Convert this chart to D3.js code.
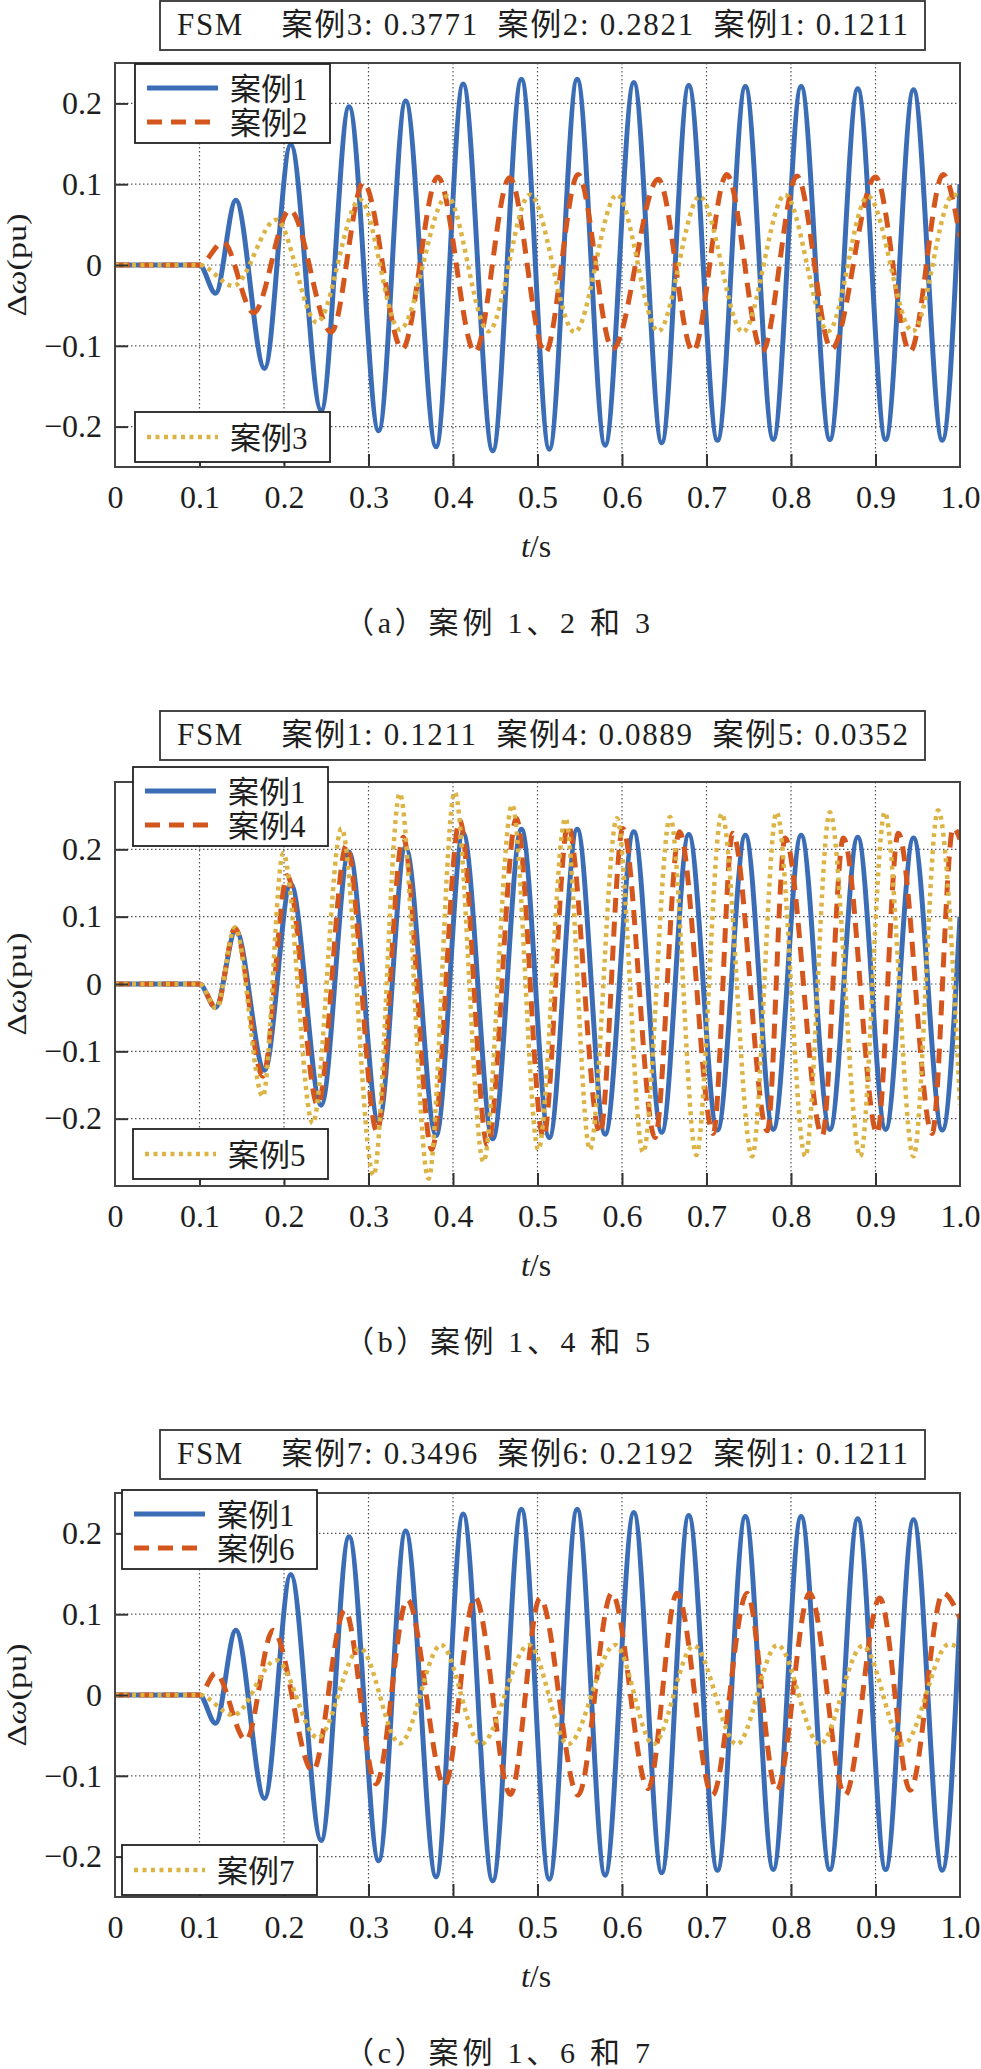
<!DOCTYPE html>
<html>
<head>
<meta charset="utf-8">
<script src="https://cdn.jsdelivr.net/npm/d3@7"></script>
<style>
body{margin:0;background:#fff;}
text{font-family:"Liberation Serif","Noto Sans CJK SC",serif;fill:#1e1e1e;}
</style>
</head>
<body>
<div id="chart"></div>
<script>
//各案例曲线的极值点 [t(s), Δω(pu)]
var case1 = [[0,0],[0.1,0],[0.119,-0.035],[0.143,0.08],[0.177,-0.128],[0.208,0.149],[0.244,-0.18],[0.277,0.196],
    [0.312,-0.205],[0.344,0.203],[0.38,-0.225],[0.412,0.224],[0.447,-0.23],[0.481,0.23],[0.514,-0.228],[0.547,0.23],
    [0.58,-0.223],[0.614,0.226],[0.647,-0.22],[0.679,0.222],[0.713,-0.217],[0.746,0.221],[0.779,-0.216],[0.812,0.221],
    [0.846,-0.216],[0.879,0.218],[0.912,-0.216],[0.945,0.217],[0.979,-0.217],[1.0,0.1]];
var case2 = [[0,0],[0.1,0],[0.128,0.028],[0.164,-0.059],[0.207,0.068],[0.256,-0.083],[0.294,0.102],[0.34,-0.104],
    [0.382,0.109],[0.426,-0.108],[0.467,0.108],[0.509,-0.109],[0.548,0.112],[0.589,-0.104],[0.643,0.106],[0.684,-0.107],
    [0.724,0.112],[0.766,-0.107],[0.807,0.11],[0.848,-0.104],[0.9,0.109],[0.941,-0.107],[0.98,0.112],[1.0,0.035]];
var case3 = [[0,0],[0.1,0],[0.14,-0.026],[0.191,0.056],[0.239,-0.071],[0.29,0.081],[0.337,-0.08],[0.393,0.085],
    [0.442,-0.082],[0.491,0.087],[0.544,-0.083],[0.594,0.087],[0.643,-0.082],[0.692,0.085],[0.743,-0.083],[0.793,0.087],
    [0.844,-0.082],[0.891,0.085],[0.944,-0.082],[0.992,0.087],[1.0,0.085]];
var case4 = [[0,0],[0.1,0],[0.12,-0.036],[0.142,0.083],[0.175,-0.137],[0.204,0.161],[0.24,-0.18],[0.274,0.206],
    [0.31,-0.219],[0.341,0.218],[0.375,-0.246],[0.408,0.243],[0.441,-0.24],[0.475,0.246],[0.507,-0.228],[0.536,0.236],
    [0.574,-0.222],[0.601,0.231],[0.639,-0.228],[0.668,0.226],[0.708,-0.222],[0.731,0.224],[0.772,-0.218],[0.793,0.217],
    [0.837,-0.225],[0.862,0.217],[0.902,-0.222],[0.927,0.224],[0.967,-0.222],[0.992,0.232],[1.0,0.215]];
var case5 = [[0,0],[0.1,0],[0.12,-0.036],[0.142,0.084],[0.175,-0.167],[0.199,0.194],[0.234,-0.207],[0.268,0.231],
    [0.306,-0.284],[0.337,0.283],[0.371,-0.289],[0.402,0.285],[0.436,-0.264],[0.47,0.266],[0.501,-0.246],[0.533,0.246],
    [0.562,-0.246],[0.594,0.246],[0.625,-0.25],[0.657,0.248],[0.688,-0.254],[0.718,0.253],[0.754,-0.256],[0.783,0.255],
    [0.817,-0.256],[0.846,0.255],[0.882,-0.256],[0.911,0.255],[0.945,-0.256],[0.974,0.258],[1.0,-0.18]];
var case6 = [[0,0],[0.1,0],[0.119,0.027],[0.155,-0.056],[0.187,0.08],[0.234,-0.094],[0.272,0.105],[0.309,-0.11],
    [0.346,0.118],[0.39,-0.112],[0.426,0.121],[0.468,-0.123],[0.503,0.12],[0.548,-0.124],[0.588,0.126],[0.631,-0.116],
    [0.665,0.126],[0.707,-0.124],[0.748,0.126],[0.783,-0.118],[0.822,0.126],[0.864,-0.124],[0.905,0.12],[0.941,-0.118],
    [0.98,0.126],[1.0,0.095]];
var case7 = [[0,0],[0.1,0],[0.14,-0.025],[0.191,0.043],[0.24,-0.053],[0.29,0.058],[0.337,-0.06],[0.386,0.062],
    [0.433,-0.061],[0.49,0.062],[0.536,-0.061],[0.592,0.062],[0.637,-0.061],[0.685,0.061],[0.736,-0.061],[0.784,0.062],
    [0.834,-0.061],[0.885,0.061],[0.933,-0.061],[0.987,0.063],[1.0,0.057]];

var caseData = {1:case1, 2:case2, 3:case3, 4:case4, 5:case5, 6:case6, 7:case7};
var caseNames = {1:'案例1', 2:'案例2', 3:'案例3', 4:'案例4', 5:'案例5', 6:'案例6', 7:'案例7'};

//刻度
var xTicks = [0, 0.1, 0.2, 0.3, 0.4, 0.5, 0.6, 0.7, 0.8, 0.9, 1.0];
var yTicks = [-0.2, -0.1, 0, 0.1, 0.2];

//每个子图：曲线、FSM指标、标题
var panelCases = [[1, 2, 3], [1, 4, 5], [1, 6, 7]];
var fsmCases = [[3, 2, 1], [1, 4, 5], [7, 6, 1]];
var fsmValues = [[0.3771, 0.2821, 0.1211], [0.1211, 0.0889, 0.0352], [0.3496, 0.2192, 0.1211]];
var yLimits = [0.25, 0.3, 0.25];
var captions = ['（a）案例 1、2 和 3', '（b）案例 1、4 和 5', '（c）案例 1、6 和 7'];

//版面
const Width = 981, Height = 2069;
const plotLeft = 115, plotRight = 960, plotH = 404;
const layout = [
    {box: 1, top: 63, leg1: [135, 64], leg2: [135, 412]},
    {box: 711, top: 782, leg1: [133, 767], leg2: [133, 1129]},
    {box: 1430, top: 1493, leg1: [122, 1490], leg2: [122, 1845]}
];
//线型：案例1实线，第二条虚线，第三条点线
const lineStyles = [
    {color: '#3b6db6', dash: null, width: 5},
    {color: '#d4561d', dash: '15,9', width: 5},
    {color: '#dcb446', dash: '4,4.5', width: 4.5}
];

var svg = d3.select('#chart').append('svg')
    .attr('width', Width).attr('height', Height)
    .style('background', '#fff');

var xScale = d3.scaleLinear().domain([0, 1]).range([plotLeft, plotRight]);

function drawPanel(idx) {
    var lay = layout[idx];
    var bottom = lay.top + plotH;
    var yScale = d3.scaleLinear().domain([-yLimits[idx], yLimits[idx]]).range([bottom, lay.top]);
    var g = svg.append('g').attr('class', 'panel' + idx);

    //网格
    g.append('g').selectAll('line').data(xTicks.slice(1, -1)).enter().append('line')
        .attr('x1', d => xScale(d)).attr('x2', d => xScale(d))
        .attr('y1', lay.top).attr('y2', bottom)
        .attr('stroke', '#555').attr('stroke-width', 1.2).attr('stroke-dasharray', '1.5,2.5');
    g.append('g').selectAll('line').data(yTicks).enter().append('line')
        .attr('x1', plotLeft).attr('x2', plotRight)
        .attr('y1', d => yScale(d)).attr('y2', d => yScale(d))
        .attr('stroke', '#555').attr('stroke-width', 1.2).attr('stroke-dasharray', '1.5,2.5');

    //曲线
    g.append('clipPath').attr('id', 'clip' + idx).append('rect')
        .attr('x', plotLeft).attr('y', lay.top).attr('width', plotRight - plotLeft).attr('height', plotH);
    var line = d3.line().x(d => xScale(d[0])).y(d => yScale(d[1])).curve(d3.curveMonotoneX);
    var cg = g.append('g').attr('clip-path', 'url(#clip' + idx + ')');
    panelCases[idx].forEach(function (c, k) {
        var st = lineStyles[k];
        cg.append('path').datum(caseData[c])
            .attr('d', line).attr('fill', 'none')
            .attr('stroke', st.color).attr('stroke-width', st.width)
            .attr('stroke-dasharray', st.dash)
            .attr('stroke-linejoin', 'round');
    });

    //坐标轴
    var yAxis = d3.axisLeft(yScale).tickValues(yTicks).tickSizeInner(-13).tickSizeOuter(0).tickPadding(13)
        .tickFormat(d => d === 0 ? '0' : d3.format('.1f')(d));
    var xAxis = d3.axisBottom(xScale).tickValues(xTicks).tickSizeInner(-13).tickSizeOuter(0).tickPadding(18)
        .tickFormat(d => d === 0 ? '0' : d.toFixed(1));
    var gy = g.append('g').attr('transform', 'translate(' + plotLeft + ',0)').call(yAxis);
    var gx = g.append('g').attr('transform', 'translate(0,' + bottom + ')').call(xAxis);
    [gx, gy].forEach(function (a) {
        a.select('.domain').remove();
        a.attr('font-family', null).attr('font-size', null);
        a.selectAll('line').attr('stroke', '#333').attr('stroke-width', 2);
        a.selectAll('text').attr('font-size', 32).attr('fill', '#1e1e1e');
    });
    gx.selectAll('.tick').filter(d => d === 0 || d === 1).select('line').remove();

    //边框
    g.append('rect').attr('x', plotLeft).attr('y', lay.top)
        .attr('width', plotRight - plotLeft).attr('height', plotH)
        .attr('fill', 'none').attr('stroke', '#444').attr('stroke-width', 2);

    //轴标签
    var yl = g.append('text').attr('transform', 'translate(26,' + (lay.top + plotH / 2) + ') rotate(-90)')
        .attr('text-anchor', 'middle').attr('font-size', 28)
        .attr('textLength', 103).attr('lengthAdjust', 'spacingAndGlyphs');
    yl.append('tspan').text('Δ');
    yl.append('tspan').attr('font-style', 'italic').text('ω');
    yl.append('tspan').text('(pu)');
    var xl = g.append('text').attr('x', 536).attr('y', bottom + 90)
        .attr('text-anchor', 'middle').attr('font-size', 32);
    xl.append('tspan').attr('font-style', 'italic').text('t');
    xl.append('tspan').text('/s');

    //图例
    drawLegend(g, lay.leg1[0], lay.leg1[1], [0, 1], idx);
    drawLegend(g, lay.leg2[0], lay.leg2[1], [2], idx);

    //FSM 指标框
    g.append('rect').attr('x', 160).attr('y', lay.box).attr('width', 765).attr('height', 49)
        .attr('fill', '#fff').attr('stroke', '#333').attr('stroke-width', 1.8);
    var fsmText = 'FSM    ' + fsmCases[idx].map((c, j) => caseNames[c] + ': ' + d3.format('.4f')(fsmValues[idx][j])).join('  ');
    g.append('text').attr('x', 177).attr('y', lay.box + 34)
        .attr('font-size', 31).style('white-space', 'pre')
        .attr('textLength', 731).attr('lengthAdjust', 'spacing')
        .text(fsmText);

    //子图标题
    g.append('text').attr('x', 497).attr('y', bottom + 166)
        .attr('text-anchor', 'middle').attr('font-size', 30)
        .attr('textLength', 306).attr('lengthAdjust', 'spacing')
        .text(captions[idx]);
}

function drawLegend(g, x, y, entries, idx) {
    var rowH = 34;
    var h = entries.length === 1 ? 50 : 79;
    var lg = g.append('g');
    lg.append('rect').attr('x', x).attr('y', y).attr('width', 195).attr('height', h)
        .attr('fill', '#fff').attr('stroke', '#222').attr('stroke-width', 1.8);
    entries.forEach(function (k, r) {
        var cy = y + (entries.length === 1 ? 25 : 24 + r * rowH);
        var st = lineStyles[k];
        lg.append('line').attr('x1', x + 12).attr('x2', x + 83).attr('y1', cy).attr('y2', cy)
            .attr('stroke', st.color).attr('stroke-width', st.width).attr('stroke-dasharray', st.dash);
        lg.append('text').attr('x', x + 95).attr('y', cy + 12).attr('font-size', 31)
            .text(caseNames[panelCases[idx][k]]);
    });
}

panelCases.forEach((d, i) => drawPanel(i));
</script>
</body>
</html>
